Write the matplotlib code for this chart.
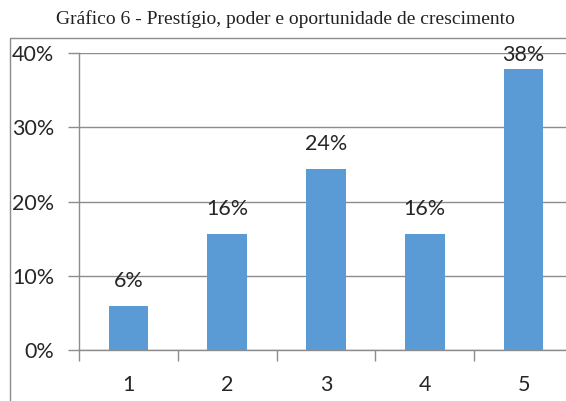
import matplotlib
matplotlib.use("Agg")
import matplotlib.pyplot as plt
from matplotlib.patches import Rectangle

categories = ["1", "2", "3", "4", "5"]
values = [0.059, 0.156, 0.244, 0.156, 0.378]
labels = ["6%", "16%", "24%", "16%", "38%"]
yticks = [0, 0.1, 0.2, 0.3, 0.4]
yticklabels = ["0%", "10%", "20%", "30%", "40%"]
title = "Gráfico 6 - Prestígio, poder e oportunidade de crescimento"

W, H = 566, 401
fig = plt.figure(figsize=(W / 100, H / 100), dpi=100)
fig.patch.set_facecolor("white")

# outer chart frame (cropped on the right and bottom)
fig.patches.append(Rectangle((10 / W, -0.05), 1.2, (H - 38) / H + 0.05,
                             transform=fig.transFigure, fill=False,
                             edgecolor="#8c8c8c", linewidth=1.0))

left, right, top, bottom = 79, 573, 53, 350
ax = fig.add_axes([left / W, (H - bottom) / H, (right - left) / W, (bottom - top) / H])
ax.set_facecolor("none")

FONT = "Lato"
FS = 15.5

ax.set_xlim(-0.5, 4.5)
ax.set_ylim(0, 0.4)

x = list(range(len(categories)))
ax.bar(x, values, width=0.4, color="#5B9BD5", zorder=3)

# label placement: above the bar, but pushed down when it would leave the plot area
axes_h_px = bottom - top
for xi, v, lab in zip(x, values, labels):
    room_px = (0.4 - v) / 0.4 * axes_h_px          # pixels from bar top to plot top
    gap_pt = 11
    max_gap_pt = (room_px + 9 - 21) * 72 / 100        # keep text top ~9px above plot top
    gap_pt = min(gap_pt, max_gap_pt)
    ax.annotate(lab, (xi, v), xytext=(0, gap_pt), textcoords="offset points",
                ha="center", va="bottom", fontsize=FS, family=FONT,
                color="#262626", zorder=4)

ax.set_yticks(yticks)
ax.set_yticklabels(yticklabels)
ax.set_xticks(x)
ax.set_xticklabels(categories)
ax.set_xticks([i - 0.5 for i in range(6)], minor=True)
ax.tick_params(axis="x", which="major", length=0, pad=18)
ax.tick_params(axis="x", which="minor", length=8, color="#8c8c8c", width=1)
ax.tick_params(axis="y", length=8, color="#8c8c8c", width=1, pad=10)
for lab in ax.get_xticklabels() + ax.get_yticklabels():
    lab.set_fontsize(FS)
    lab.set_family(FONT)
    lab.set_color("#262626")

ax.grid(axis="y", color="#8c8c8c", linewidth=1, zorder=0)
for s in ["top", "right"]:
    ax.spines[s].set_visible(False)
for s in ["left", "bottom"]:
    ax.spines[s].set_color("#8c8c8c")
    ax.spines[s].set_linewidth(1)

fig.text(285 / W, 1 - 19 / H, title, ha="center", va="center",
         fontsize=14, family="Liberation Serif", color="#222222")

fig.savefig("out.png", dpi=100)
